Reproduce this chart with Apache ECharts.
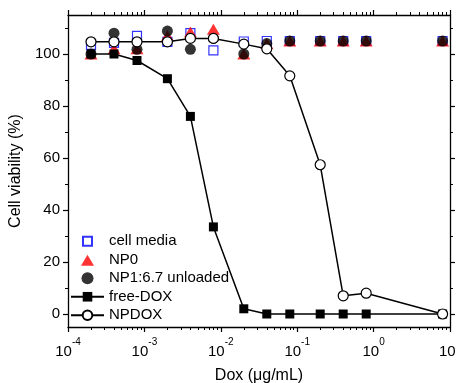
<!DOCTYPE html>
<html>
<head>
<meta charset="utf-8">
<script src="https://cdn.jsdelivr.net/npm/echarts@6/dist/echarts.min.js"></script>
<style>
  html, body { margin: 0; padding: 0; background: #fff; }
  #chart { width: 456px; height: 383px; }
</style>
</head>
<body>
<div id="chart"></div>
<script>
// dose (ug/mL)
const doses = [2e-4, 4e-4, 8e-4, 2e-3, 4e-3, 8e-3, 2e-2, 4e-2, 8e-2, 0.2, 0.4, 0.8, 8];

const cellMedia = [103.5, 104.3, 107, 104.7, 108, 101.4, 104.8, 105, 105, 105, 105, 105, 105];
const np0 = [100, 102, 102, 107, 108.5, 109.5, 100, 104, 105, 105, 105, 105, 105];
const np1 = [100, 108, 101.8, 108.8, 101.8, 106, 100, 104, 105, 105, 105, 105, 105];
const freeDox = [100, 100, 97.5, 90.5, 76, 33.5, 2, 0, 0, 0, 0, 0, 0];
const npDox = [104.7, 104.7, 104.7, 104.7, 106, 106, 103.8, 102, 91.6, 57.4, 7, 8, 0];

const yMajor = [0, 20, 40, 60, 80, 100];
const yMinor = [10, 30, 50, 70, 90, 110];
const decades = [-4, -3, -2, -1, 0];
// minor ticks of the log axis, kept in log10 space
const xMinor = [];
decades.forEach((d) => {
  for (let k = 2; k <= 9; k++) xMinor.push(d + Math.log10(k));
});

const font = "'Liberation Sans', Arial, sans-serif";
const pair = (ys) => doses.map((x, i) => [x, ys[i]]);

// legend icons (padded so the shape keeps its size inside the 12px box)
const squareIcon = 'path://M-1.5,-1.5M0,0H9V9H0ZM10.5,10.5';
const triangleIcon = 'path://M0,-1M6.5,0L13,11H0ZM13,11';

const myChart = echarts.init(document.getElementById('chart'));

const frameLine = { show: true, onZero: false, lineStyle: { color: '#000', width: 1.3 } };
const noLine = { show: false, onZero: false };

const option = {
  animation: false,
  backgroundColor: '#fff',
  textStyle: { fontFamily: font },
  grid: { left: 68, right: 6, top: 15, bottom: 56, outerBoundsMode: 'none', containLabel: false },
  legend: {
    orient: 'vertical',
    left: 65,
    top: 228,
    itemWidth: 33,
    itemHeight: 12,
    itemGap: 2,
    symbolKeepAspect: true,
    textStyle: { fontFamily: font, fontSize: 15, color: '#000', lineHeight: 16.5 },
    data: [
      { name: 'cell media', icon: squareIcon },
      { name: 'NP0', icon: triangleIcon },
      { name: 'NP1:6.7 unloaded' },
      { name: 'free-DOX' },
      { name: 'NPDOX' },
    ],
  },
  xAxis: [
    {
      type: 'log',
      logBase: 10,
      min: 1e-4,
      max: 10,
      position: 'bottom',
      name: 'Dox (μg/mL)',
      nameLocation: 'middle',
      nameGap: 41,
      nameTextStyle: { fontFamily: font, fontSize: 16, color: '#000' },
      axisLine: frameLine,
      axisTick: { inside: false, length: 5, lineStyle: { color: '#000', width: 1.2 } },
      axisLabel: {
        margin: 10,
        color: '#000',
        formatter: (v) => '{b|10}{s|' + Math.round(Math.log10(v)) + '}',
        rich: {
          b: { fontFamily: font, fontSize: 15, color: '#000', verticalAlign: 'bottom', lineHeight: 22 },
          s: { fontFamily: font, fontSize: 10, color: '#000', verticalAlign: 'top', lineHeight: 10 },
        },
      },
      splitLine: { show: false },
      minorTick: { show: false },
    },
    {
      type: 'value',
      min: -4,
      max: 1,
      position: 'bottom',
      axisLine: noLine,
      axisTick: { show: true, length: 3, customValues: xMinor, lineStyle: { color: '#000', width: 1 } },
      axisLabel: { show: false },
      splitLine: { show: false },
    },
    {
      type: 'log',
      logBase: 10,
      min: 1e-4,
      max: 10,
      position: 'top',
      axisLine: frameLine,
      axisTick: { inside: false, length: 5, lineStyle: { color: '#000', width: 1.2 } },
      axisLabel: { show: false },
      splitLine: { show: false },
    },
    {
      type: 'value',
      min: -4,
      max: 1,
      position: 'top',
      axisLine: noLine,
      axisTick: { show: true, length: 3, customValues: xMinor, lineStyle: { color: '#000', width: 1 } },
      axisLabel: { show: false },
      splitLine: { show: false },
    },
  ],
  yAxis: [
    {
      type: 'value',
      min: -5,
      max: 115,
      position: 'left',
      name: 'Cell viability (%)',
      nameLocation: 'middle',
      nameGap: 39,
      nameTextStyle: { fontFamily: font, fontSize: 16, color: '#000' },
      axisLine: frameLine,
      axisTick: { show: true, length: 5, customValues: yMajor, lineStyle: { color: '#000', width: 1.2 } },
      axisLabel: { customValues: yMajor, margin: 8, fontFamily: font, fontSize: 15, color: '#000' },
      splitLine: { show: false },
    },
    {
      type: 'value',
      min: -5,
      max: 115,
      position: 'left',
      axisLine: noLine,
      axisTick: { show: true, length: 3, customValues: yMinor, lineStyle: { color: '#000', width: 1 } },
      axisLabel: { show: false },
      splitLine: { show: false },
    },
    {
      type: 'value',
      min: -5,
      max: 115,
      position: 'right',
      axisLine: frameLine,
      axisTick: { show: true, length: 5, customValues: yMajor, lineStyle: { color: '#000', width: 1.2 } },
      axisLabel: { show: false },
      splitLine: { show: false },
    },
    {
      type: 'value',
      min: -5,
      max: 115,
      position: 'right',
      axisLine: noLine,
      axisTick: { show: true, length: 3, customValues: yMinor, lineStyle: { color: '#000', width: 1 } },
      axisLabel: { show: false },
      splitLine: { show: false },
    },
  ],
  series: [
    {
      name: 'free-DOX',
      type: 'line',
      data: pair(freeDox),
      symbol: 'rect',
      symbolSize: 9,
      itemStyle: { color: '#000' },
      lineStyle: { color: '#000', width: 1.5 },
      emphasis: { disabled: true },
    },
    {
      name: 'cell media',
      type: 'scatter',
      data: pair(cellMedia),
      symbol: 'rect',
      symbolSize: 9,
      itemStyle: { color: '#fff', borderColor: '#0000ff', borderWidth: 1.2 },
      emphasis: { disabled: true },
    },
    {
      name: 'NPDOX',
      type: 'line',
      data: pair(npDox),
      symbol: 'circle',
      symbolSize: 10,
      showAllSymbol: true,
      itemStyle: { color: '#fff', borderColor: '#000', borderWidth: 1.2 },
      lineStyle: { color: '#000', width: 1.5 },
      emphasis: { disabled: true },
    },
    {
      name: 'NP0',
      type: 'scatter',
      data: pair(np0),
      symbol: 'triangle',
      symbolSize: [13, 11],
      itemStyle: { color: '#ff0000' },
      emphasis: { disabled: true },
    },
    {
      name: 'NP1:6.7 unloaded',
      type: 'scatter',
      data: pair(np1),
      symbol: 'circle',
      symbolSize: 11,
      itemStyle: { color: '#000' },
      emphasis: { disabled: true },
    },
  ],
};

myChart.setOption(option);
</script>
</body>
</html>
